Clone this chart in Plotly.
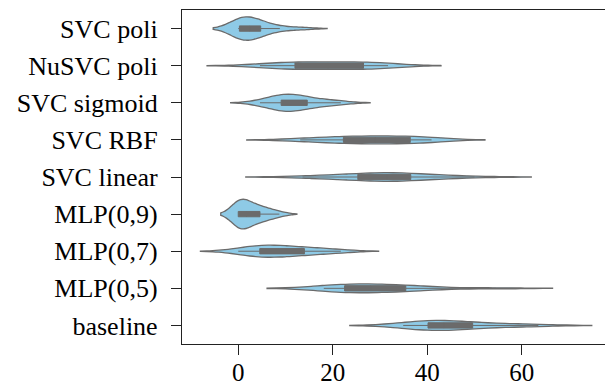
import plotly.graph_objects as go

categories = ["SVC poli", "NuSVC poli", "SVC sigmoid", "SVC RBF", "SVC linear",
              "MLP(0,9)", "MLP(0,7)", "MLP(0,5)", "baseline"]

svc_poli = [0, 0, 0, 0, 0.5, 1.2, 1.8, 2.2, 2.6, 3.0, 3.6, 4.5, 5.0, 7.0, 8.8, 13.5]
nusvc_poli = [4.6, 8, 11, 12, 12.5, 15, 18, 20, 22, 26, 26.5, 28, 30, 31.7]
svc_sigmoid = [4.6, 6.5, 8, 9, 9.3, 9.8, 10.5, 11, 12, 13, 14, 14.8, 17, 19, 21.7]
svc_rbf = [13.1, 16, 19, 22, 23, 25, 27, 29, 30, 32, 35.8, 36.6, 38, 39.5, 40.9]
svc_linear = [13.6, 18, 22, 25, 25.6, 28, 30, 31, 32, 33, 34.5, 36, 37, 40, 44, 50]
mlp_09 = [0, 0, 0, 0, 0, 0.5, 1, 1.5, 2, 2.5, 3.2, 4.6, 4.6, 5.5, 7, 8.7]
mlp_07 = [0, 2, 3.5, 4.5, 4.7, 6, 7.5, 8.5, 9.5, 11, 12.8, 14.4, 16, 19, 21.7]
mlp_05 = [18.1, 20, 21, 22.4, 22.8, 25, 27, 28, 29, 31, 35, 35.6, 37, 40, 54.5]
baseline = [34.9, 37, 38.5, 40, 40.6, 41.5, 42.5, 43.5, 45, 47, 49, 49.8, 55, 59.3, 63.5]

series = [svc_poli, nusvc_poli, svc_sigmoid, svc_rbf, svc_linear,
          mlp_09, mlp_07, mlp_05, baseline]

# KDE bandwidths estimated from the reference violins
kde_bandwidth = [2.65, 5.6, 3.1, 5.65, 6.0, 1.85, 4.0, 6.0, 5.65]

x_ticks = [0, 20, 40, 60]

fill = "#8ecae6"
edge = "#6b6b6b"

fig = go.Figure()
for cat, vals, bw in zip(categories, series, kde_bandwidth):
    fig.add_trace(go.Violin(
        x=vals, y=[cat] * len(vals), orientation="h",
        fillcolor=fill, line=dict(color=edge, width=1.3),
        spanmode="soft", scalemode="width", scalegroup="all",
        bandwidth=bw, points=False,
        box=dict(visible=True, width=0.18, fillcolor=edge,
                 line=dict(color=edge, width=1)),
        meanline=dict(visible=False),
        hoverinfo="skip", showlegend=False,
    ))

font_family = "Liberation Serif, Times New Roman, serif"
fig.update_layout(
    width=605, height=386,
    margin=dict(l=182, r=0, t=10, b=42),
    plot_bgcolor="white", paper_bgcolor="white",
    violinmode="overlay", violingap=0.2, violingroupgap=0,
    font=dict(family=font_family, size=26, color="#000000"),
    xaxis=dict(range=[-11.9, 77.6], tickvals=x_ticks, ticktext=[str(v) for v in x_ticks],
               automargin=False, ticklabelstandoff=-4,
               showgrid=False, zeroline=False, showline=True, linecolor="#222222",
               linewidth=1.3, mirror=True, ticks="outside", ticklen=10, tickwidth=1,
               tickcolor="#222222", tickfont=dict(size=25, family=font_family)),
    yaxis=dict(type="category", categoryorder="array", categoryarray=categories,
               automargin=False, ticklabelstandoff=8,
               range=[8.5, -0.5], showgrid=False, zeroline=False, showline=True,
               linecolor="#222222", linewidth=1.3, ticks="outside", ticklen=10,
               tickwidth=1, tickcolor="#222222",
               tickfont=dict(size=26, family=font_family)),
)

fig.write_html("out.html")
